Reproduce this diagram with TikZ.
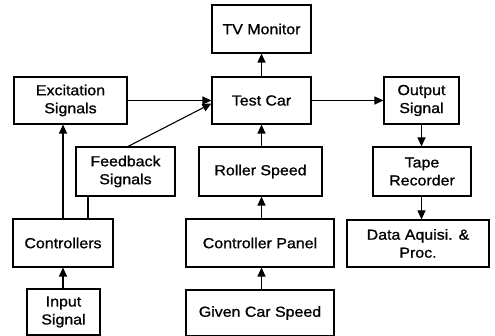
\documentclass[tikz,border=0pt]{standalone}
\usepackage{fontspec}
\setmainfont{Liberation Sans}[FakeStretch=1.1,FakeBold=1]
\usetikzlibrary{arrows.meta}
\begin{document}
\begin{tikzpicture}[x=1pt,y=-1pt,
  box/.style={draw,line width=1.1pt,align=center,inner sep=0pt,font=\fontsize{14.5}{18}\selectfont},
  arr/.style={line width=1.1pt,-{Triangle[length=9pt,width=8pt]}},
  ln/.style={line width=1.1pt}]
\useasboundingbox (0,0) rectangle (495,336);
\node[box,minimum width=99pt,minimum height=48pt] (tv) at (261.5,29) {TV Monitor};
\node[box,minimum width=99pt,minimum height=47pt] (tc) at (261.5,100.5) {Test Car};
\node[box,minimum width=113pt,minimum height=47pt] (exc) at (70.5,100.5) {Excitation\\Signals};
\node[box,minimum width=99pt,minimum height=49pt] (fb) at (125.5,171.5) {Feedback\\Signals};
\node[box,minimum width=100pt,minimum height=48pt] (ctrl) at (63,243) {Controllers};
\node[box,minimum width=73pt,minimum height=46pt] (in) at (63.5,312) {Input\\Signal};
\node[box,minimum width=123pt,minimum height=49pt] (rs) at (260.5,171.5) {Roller Speed};
\node[box,minimum width=148pt,minimum height=48pt] (cp) at (260,243) {Controller Panel};
\node[box,minimum width=148pt,minimum height=46pt] (gcs) at (260,313) {Given Car Speed};
\node[box,minimum width=75pt,minimum height=47pt] (out) at (421.5,100.5) {Output\\Signal};
\node[box,minimum width=98pt,minimum height=49pt] (tape) at (422,171.5) {Tape\\Recorder};
\node[box,minimum width=142pt,minimum height=47pt] (data) at (418,243.5) {Data Aquisi. \&\\Proc.};
\draw[arr] (tc.north) -- (tv.south);
\draw[arr] (rs.north -| tc.south) -- (tc.south);
\draw[arr] (cp.north -| tc.south) -- (rs.south -| tc.south);
\draw[arr] (gcs.north -| tc.south) -- (cp.south -| tc.south);
\draw[arr] (exc.east) -- (tc.west);
\draw[arr] (tc.east) -- (out.west);
\draw[arr] (out.south) -- (out.south |- tape.north);
\draw[arr] (out.south |- tape.south) -- (out.south |- data.north);
\draw[arr] ([xshift=2.5pt]fb.north) -- ([yshift=-3pt]tc.west);
\draw[arr] (ctrl.north) -- (ctrl.north |- exc.south);
\draw[ln] ([xshift=25pt]ctrl.north) -- ([xshift=25pt]ctrl.north |- fb.south);
\draw[arr] (in.north -| ctrl.north) -- (ctrl.south);
\end{tikzpicture}
\end{document}
